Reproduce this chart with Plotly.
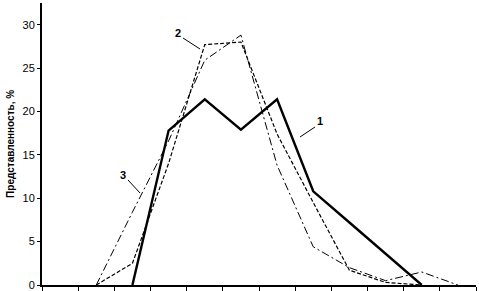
import plotly.graph_objects as go

categories = list(range(12))
series1 = [None, None, 0, 17.8, 21.4, 17.9, 21.4, 10.8, 7.2, 3.6, 0, None]
series2 = [None, 0, 2.5, 14.0, 27.7, 28.0, 17.4, 9.5, 1.7, 0.3, 0, None]
series3 = [None, 0, 8.4, 16.6, 25.9, 28.8, 13.8, 4.4, 2.0, 0.5, 1.5, 0.0]
y_ticks = [0, 5, 10, 15, 20, 25, 30]
y_title = "Представленность, %"

fig = go.Figure()
fig.add_trace(go.Scatter(x=categories, y=series3, mode="lines",
                         line=dict(color="black", width=1, dash="8px,3px,2px,3px"),
                         connectgaps=False))
fig.add_trace(go.Scatter(x=categories, y=series2, mode="lines",
                         line=dict(color="black", width=1.2, dash="4px,2px"),
                         connectgaps=False))
fig.add_trace(go.Scatter(x=categories, y=series1, mode="lines",
                         line=dict(color="black", width=2.4),
                         connectgaps=False))

font = "Liberation Sans, Arial, sans-serif"
fig.update_layout(
    width=479, height=291,
    margin=dict(l=42, r=3, t=3, b=6, autoexpand=False),
    paper_bgcolor="white", plot_bgcolor="white",
    showlegend=False,
    font=dict(family=font, size=11, color="black"),
)
fig.update_xaxes(range=[-0.5, 11.5], tickvals=[i - 0.5 for i in range(13)],
                 showticklabels=False, ticks="outside", ticklen=4, tickwidth=1,
                 tickcolor="black", showgrid=False, zeroline=False,
                 showline=True, linecolor="black", linewidth=2)
fig.update_yaxes(range=[0, 32.5], tickvals=y_ticks, ticks="outside", ticklen=3,
                 tickwidth=1, tickcolor="black", showgrid=False, zeroline=False,
                 showline=True, linecolor="black", linewidth=2,
                 tickfont=dict(size=11))

fig.add_annotation(text="<b>" + y_title + "</b>", xref="paper", yref="paper",
                   x=-0.074, y=0.5, textangle=-90, showarrow=False,
                   font=dict(size=10, family=font), xanchor="center", yanchor="middle")


def px2x(p):
    return -0.5 + (p - 42) / 434 * 12


def px2y(p):
    return (285 - p) / 282 * 32.5


def label(txt, tx, ty, x0, y0, x1, y1):
    fig.add_annotation(text="<b>%s</b>" % txt, x=px2x(tx), y=px2y(ty),
                       showarrow=False, font=dict(size=11, family=font))
    fig.add_shape(type="line", x0=px2x(x0), y0=px2y(y0), x1=px2x(x1), y1=px2y(y1),
                  line=dict(color="black", width=1))


label("1", 320, 121, 315, 127, 300, 137)
label("2", 178, 33, 183, 38, 200, 49)
label("3", 123, 175, 128, 180, 140, 193)

fig.write_html("out.html", config={"displayModeBar": False},
               post_script="document.body.style.margin='0';document.body.style.overflow='hidden';")
